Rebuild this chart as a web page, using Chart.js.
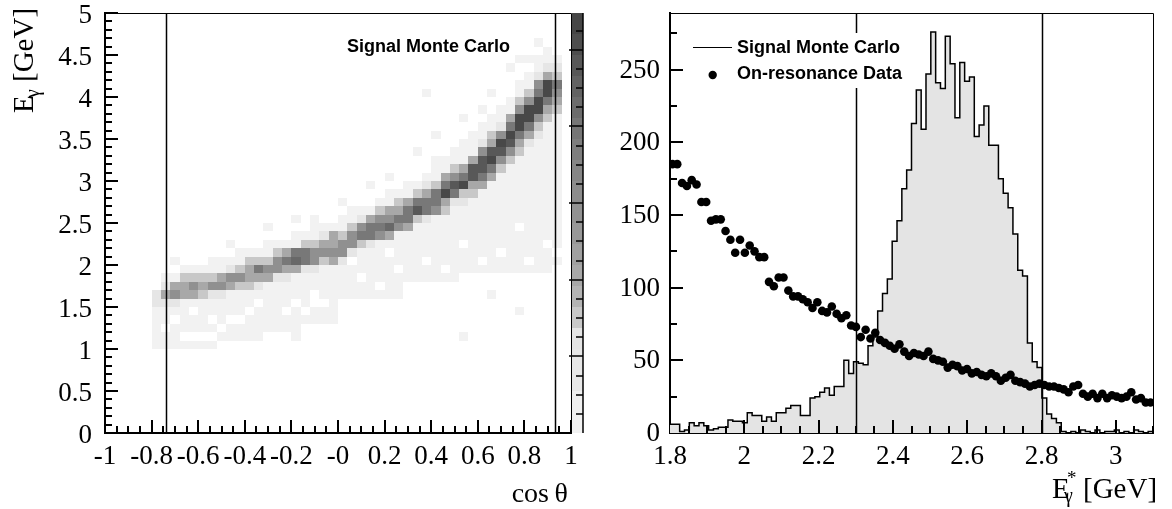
<!DOCTYPE html>
<html>
<head>
<meta charset="utf-8">
<script src="https://cdn.jsdelivr.net/npm/chart.js@4.4.1/dist/chart.umd.min.js"></script>
<style>
  html, body { margin: 0; padding: 0; background: #fff; }
  #wrap { position: relative; width: 1172px; height: 509px; }
  .pane { position: absolute; top: 0; height: 509px; }
  #left { left: 0; width: 590px; }
  #right { left: 590px; width: 582px; }
</style>
</head>
<body>
<div id="wrap">
  <div class="pane" id="left"><canvas id="mapChart"></canvas></div>
  <div class="pane" id="right"><canvas id="specChart"></canvas></div>
</div>
<script>
// ---- left pad: cos(theta) vs E_gamma, 50 x 50 bins ----
const cosTicks = [-1, -0.8, -0.6, -0.4, -0.2, 0, 0.2, 0.4, 0.6, 0.8, 1];
const cosTickLabels = ['-1', '-0.8', '-0.6', '-0.4', '-0.2', '-0', '0.2', '0.4', '0.6', '0.8', '1'];
const egTicks = [0, 0.5, 1, 1.5, 2, 2.5, 3, 3.5, 4, 4.5, 5];
const egTickLabels = ['0', '0.5', '1', '1.5', '2', '2.5', '3', '3.5', '4', '4.5', '5'];
const cosCuts = [-0.74, 0.93];
const nCos = 50, nEg = 50;

// light halo per cos column (E bin range), null = empty column
const haloLo = [null, null, null, null, null, 10, 10, 10, 10, 10,
  10, 10, 11, 11, 11, 11, 11, 11, 11, 11,
  11, 13, 13, 13, 13, 16, 16, 16, 16, 16,
  16, 16, 18, 18, 18, 18, 18, 18, 19, 19,
  19, 19, 19, 19, 19, 19, 19, 19, 19, null];
const haloHi = [null, null, null, null, null, 16, 18, 18, 19, 19,
  19, 20, 20, 20, 21, 21, 21, 22, 22, 22,
  23, 23, 24, 24, 24, 25, 25, 26, 26, 27,
  28, 28, 29, 29, 30, 31, 32, 33, 34, 35,
  36, 37, 38, 39, 41, 42, 44, 45, 44, null];
const haloHoles = [[8, 11], [9, 11], [10, 11], [11, 11], [13, 13], [14, 13], [16, 15], [17, 11], [18, 11],
  [19, 11], [22, 15], [23, 15], [22, 16], [21, 14], [12, 12], [7, 13], [20, 15], [15, 14], [19, 14],
  [27, 18], [29, 17], [31, 19], [26, 20], [34, 20], [36, 19], [40, 20], [42, 21], [45, 20], [47, 22],
  [48, 21], [48, 19], [44, 24], [38, 22], [30, 21], [9, 14], [6, 12], [11, 13]];
const haloExtra = [[7, 20], [12, 20], [20, 25], [22, 25], [25, 27], [26, 26], [34, 40], [40, 38], [33, 33],
  [35, 35], [35, 32], [45, 44], [47, 45], [43, 43], [30, 30], [28, 29], [38, 37], [44, 44], [13, 22],
  [17, 24], [41, 40], [46, 46], [38, 11], [41, 16], [44, 14]];

// signal band: first E bin of the band and its grey levels going up
const bandStart = [null, null, null, null, null, 14, 15, 15, 15, 16,
  16, 16, 16, 17, 17, 17, 17, 18, 18, 18,
  19, 19, 19, 20, 20, 20, 21, 22, 22, 23,
  23, 24, 24, 25, 25, 26, 26, 27, 27, 28,
  29, 30, 31, 32, 33, 34, 35, 37, 38, null];
const bandLevels = [null, null, null, null, null, '122', '242', '254', '1443', '453',
  '343', '253', '254', '452', '353', '3443', '2463', '453', '2553', '2464',
  '476', '2663', '2553', '3542', '4544', '2553', '2553', '3652', '2664', '5653',
  '4754', '5643', '4664', '3863', '26642', '5663', '34964', '26853', '23964', '34884',
  '468852', '469843', '358952', '358964', '3469953', '2469953', '23599652', '3469942', '345632', null];

const levelGreys = ['#ffffff', '#f2f2f2', '#e6e6e6', '#c8c8c8', '#a8a8a8', '#909090', '#787878', '#686868', '#585858', '#484848'];
const paletteGreys = ['#464646', '#4e4e4e', '#585858', '#626262', '#6c6c6c', '#767676', '#7e7e7e', '#868686',
  '#8c8c8c', '#929292', '#989898', '#a0a0a0', '#a8a8a8', '#b4b4b4', '#c8c8c8', '#e4e4e4', '#e6e6e6',
  '#e8e8e8', '#f0f0f0', '#f2f2f2'];
const paletteMax = 54.8, paletteMajor = 10, paletteMinor = 2.5;

// ---- right pad: E*_gamma spectrum, 100 bins from 1.8 to 3.1 ----
const specLo = 1.8, specBin = 0.013;
const mcCounts = [6, 6, 1, 2, 7, 5, 7, 5, 2, 3,
  4, 4, 9, 8, 8, 7, 14, 12, 12, 8,
  11, 8, 14, 14, 17, 19, 19, 12, 12, 24,
  25, 28, 31, 26, 32, 32, 50, 41, 49, 48,
  47, 60, 66, 84, 96, 106, 132, 146, 168, 181,
  213, 236, 209, 247, 276, 241, 237, 273, 254, 217,
  255, 242, 245, 204, 212, 225, 198, 198, 175, 165,
  155, 137, 112, 108, 62, 49, 45, 24, 13, 10,
  7, 1, 0, 1, 0, 2, 1, 0, 2, 0,
  1, 1, 2, 0, 1, 0, 2, 1, 0, 1];
const dataCounts = [185, 185, 172, 170, 174, 171, 159, 159, 146, 147,
  147, 139, 133, 124, 133, 124, 129, 125, 121, 121,
  104, 101, 107, 107, 98, 94, 94, 92, 90, 86,
  90, 84, 83, 87, 82, 79, 81, 74, 73, 66,
  71, 65, 69, 64, 62, 60, 58, 61, 56, 53,
  55, 54, 53, 56, 51, 50, 49, 45, 47, 46,
  43, 44, 41, 42, 40, 39, 41, 39, 36, 38,
  40, 36, 35, 34, 32, 33, 34, 33, 32, 32,
  31, 30, 28, 32, 33, 27, 25, 27, 24, 27,
  24, 26, 25, 24, 25, 28, 23, 24, 21, 21];
const specTicks = [1.8, 2, 2.2, 2.4, 2.6, 2.8, 3];
const specTickLabels = ['1.8', '2', '2.2', '2.4', '2.6', '2.8', '3'];
const countTicks = [0, 50, 100, 150, 200, 250];
const countTickLabels = ['0', '50', '100', '150', '200', '250'];
const specCuts = [2.3, 2.8];

Chart.defaults.font.family = "'Liberation Serif', 'Times New Roman', serif";
Chart.defaults.font.size = 27;
Chart.defaults.color = '#000';

const serif = size => size + "px 'Liberation Serif', serif";
const sansBold = size => 'bold ' + size + "px 'Liberation Sans', Arial, sans-serif";

// keep the plot frame where it is, labels may stick out
const noPad = s => { s.paddingTop = 0; s.paddingBottom = 0; s.paddingLeft = 0; s.paddingRight = 0 };

function buildGrid() {
  const grid = [];
  for (let i = 0; i < nCos; i++) {
    grid.push(new Array(nEg).fill(0));
    if (haloLo[i] != null) {
      for (let j = haloLo[i]; j <= haloHi[i]; j++) grid[i][j] = 1;
    }
  }
  haloHoles.forEach(([i, j]) => { grid[i][j] = 0 });
  haloExtra.forEach(([i, j]) => { grid[i][j] = 1 });
  bandStart.forEach((j0, i) => {
    if (j0 == null) return;
    [...bandLevels[i]].forEach((c, k) => { grid[i][j0 + k] = +c });
  });
  return grid;
}
const mapGrid = buildGrid();

// ROOT-like frame: inward ticks, top/right frame lines, cut lines
const rootFrame = {
  id: 'rootFrame',
  afterDatasetsDraw(chart, args, opts) {
    const { ctx, chartArea: a, scales: { x, y } } = chart;
    ctx.save();
    ctx.strokeStyle = '#000';
    ctx.lineWidth = 1.5;
    opts.cuts.forEach(v => {
      const px = Math.round(x.getPixelForValue(v)) + 0.5;
      ctx.beginPath(); ctx.moveTo(px, a.top); ctx.lineTo(px, a.bottom); ctx.stroke();
    });
    ctx.lineWidth = 1;
    ctx.beginPath();
    ctx.moveTo(a.left, a.top + 0.5); ctx.lineTo(a.right + 0.5, a.top + 0.5); ctx.lineTo(a.right + 0.5, a.bottom);
    ctx.stroke();
    ctx.lineWidth = 2;
    const isMajor = (v, min, step) => Math.abs((v - min) / step - Math.round((v - min) / step)) < 1e-6;
    for (let k = 1; ; k++) {
      const v = x.min + k * opts.xMinor;
      if (v > x.max + 1e-9) break;
      const px = Math.round(x.getPixelForValue(v));
      const len = isMajor(v, x.min, opts.xMajor) ? 13 : 7;
      ctx.beginPath(); ctx.moveTo(px, a.bottom); ctx.lineTo(px, a.bottom - len); ctx.stroke();
    }
    for (let k = 1; ; k++) {
      const v = y.min + k * opts.yMinor;
      if (v > y.max + 1e-9) break;
      const py = Math.round(y.getPixelForValue(v));
      const len = isMajor(v, y.min, opts.yMajor) ? 13 : 7;
      ctx.beginPath(); ctx.moveTo(a.left, py); ctx.lineTo(a.left + len, py); ctx.stroke();
    }
    ctx.restore();
  }
};

const cellPlugin = {
  id: 'cells',
  beforeDatasetsDraw(chart) {
    const { ctx, scales: { x, y } } = chart;
    const dc = (x.max - x.min) / nCos, de = (y.max - y.min) / nEg;
    ctx.save();
    for (let i = 0; i < nCos; i++) {
      for (let j = 0; j < nEg; j++) {
        const lvl = mapGrid[i][j];
        if (!lvl) continue;
        const x0 = Math.round(x.getPixelForValue(x.min + i * dc));
        const x1 = Math.round(x.getPixelForValue(x.min + (i + 1) * dc));
        const y0 = Math.round(y.getPixelForValue(y.min + j * de));
        const y1 = Math.round(y.getPixelForValue(y.min + (j + 1) * de));
        ctx.fillStyle = levelGreys[lvl];
        ctx.fillRect(x0, y1, x1 - x0, y0 - y1);
      }
    }
    ctx.restore();
  }
};

const mapDecor = {
  id: 'mapDecor',
  afterDraw(chart) {
    const { ctx, chartArea: a } = chart;
    ctx.save();
    // palette
    const pl = a.right + 1, pw = 11, h = a.bottom - a.top;
    const bh = h / paletteGreys.length;
    paletteGreys.forEach((c, k) => {
      ctx.fillStyle = c;
      ctx.fillRect(pl, Math.round(a.top + k * bh), pw, Math.round(a.top + (k + 1) * bh) - Math.round(a.top + k * bh));
    });
    ctx.strokeStyle = '#000';
    ctx.lineWidth = 1.5;
    ctx.beginPath(); ctx.moveTo(pl + pw, a.top); ctx.lineTo(pl + pw, a.bottom); ctx.stroke();
    for (let v = paletteMinor; v <= paletteMax; v += paletteMinor) {
      const py = Math.round(a.bottom - v / paletteMax * h);
      const major = Math.abs(v / paletteMajor - Math.round(v / paletteMajor)) < 1e-6;
      ctx.beginPath(); ctx.moveTo(pl + pw, py); ctx.lineTo(pl + pw - (major ? 14 : 7), py); ctx.stroke();
    }
    // texts
    ctx.fillStyle = '#000';
    ctx.font = sansBold(18);
    ctx.textAlign = 'left';
    ctx.textBaseline = 'alphabetic';
    ctx.fillText(chart.data.datasets[0].label, 347, 52);
    ctx.font = serif(28);
    ctx.textAlign = 'right';
    ctx.fillText('cos\u2009\u03b8', 568, 502);
    ctx.textAlign = 'left';
    ctx.translate(33, 113);
    ctx.rotate(-Math.PI / 2);
    ctx.font = serif(29);
    ctx.fillText('E', 0, 0);
    ctx.font = serif(20);
    ctx.fillText('\u03b3', 15, 6);
    ctx.font = serif(29);
    ctx.fillText('[GeV]', 31, 0);
    ctx.restore();
  }
};

const specDecor = {
  id: 'specDecor',
  afterDraw(chart) {
    const { ctx } = chart;
    const ds = chart.data.datasets;
    ctx.save();
    ctx.fillStyle = '#fff';
    ctx.fillRect(98, 33, 222, 55);
    ctx.strokeStyle = '#000';
    ctx.lineWidth = 1.2;
    ctx.beginPath(); ctx.moveTo(103, 47.5); ctx.lineTo(142, 47.5); ctx.stroke();
    ctx.fillStyle = '#000';
    ctx.beginPath(); ctx.arc(122.7, 75, 4.2, 0, Math.PI * 2); ctx.fill();
    ctx.font = sansBold(18);
    ctx.textAlign = 'left';
    ctx.textBaseline = 'alphabetic';
    ctx.fillText(ds[1].label, 147, 53);
    ctx.fillText(ds[0].label, 147, 78.5);
    // axis title E*_gamma [GeV]
    ctx.font = serif(29);
    ctx.fillText('E', 462, 498);
    ctx.font = serif(19);
    ctx.fillText('*', 477, 484);
    ctx.font = serif(20);
    ctx.fillText('\u03b3', 474, 502);
    ctx.font = serif(29);
    ctx.fillText('[GeV]', 493, 498);
    ctx.restore();
  }
};

new Chart(document.getElementById('mapChart'), {
  type: 'scatter',
  data: { datasets: [{ label: 'Signal Monte Carlo', data: [] }] },
  options: {
    responsive: true,
    maintainAspectRatio: false,
    animation: false,
    events: [],
    layout: { padding: { top: 13, right: 19, left: 0, bottom: 0 } },
    plugins: {
      legend: { display: false },
      tooltip: { enabled: false },
      rootFrame: { xMinor: 0.05, xMajor: 0.2, yMinor: 0.1, yMajor: 0.5, cuts: cosCuts }
    },
    scales: {
      x: {
        type: 'linear', min: -1, max: 1,
        afterBuildTicks: s => { s.ticks = cosTicks.map(v => ({ value: v })) },
        afterFit: s => { s.height = 76; noPad(s) },
        grid: { display: false, drawTicks: false },
        border: { display: true, color: '#000', width: 2 },
        ticks: { padding: 8, maxRotation: 0, autoSkip: false, callback: (v, i) => cosTickLabels[i] }
      },
      y: {
        type: 'linear', min: 0, max: 5,
        afterBuildTicks: s => { s.ticks = egTicks.map(v => ({ value: v })) },
        afterFit: s => { s.width = 105; noPad(s) },
        grid: { display: false, drawTicks: false },
        border: { display: true, color: '#000', width: 2 },
        ticks: { padding: 13, labelOffset: 3, autoSkip: false, callback: (v, i) => egTickLabels[i] }
      }
    }
  },
  plugins: [cellPlugin, rootFrame, mapDecor]
});

const histPoints = [{ x: specLo, y: mcCounts[0] }];
mcCounts.forEach((v, k) => histPoints.push({ x: specLo + (k + 0.5) * specBin, y: v }));
histPoints.push({ x: specLo + mcCounts.length * specBin, y: mcCounts[mcCounts.length - 1] });
const dataPoints = dataCounts.map((v, k) => ({ x: specLo + (k + 0.5) * specBin, y: v }));

new Chart(document.getElementById('specChart'), {
  type: 'scatter',
  data: {
    datasets: [
      {
        label: 'On-resonance Data', data: dataPoints, order: 1,
        pointRadius: 4.3, pointBackgroundColor: '#000', pointBorderWidth: 0
      },
      {
        type: 'line', label: 'Signal Monte Carlo', data: histPoints, order: 2,
        stepped: 'middle', borderColor: '#000', borderWidth: 1.5,
        backgroundColor: '#e4e4e4', fill: 'origin', pointRadius: 0
      }
    ]
  },
  options: {
    responsive: true,
    maintainAspectRatio: false,
    animation: false,
    events: [],
    layout: { padding: { top: 13, right: 19, left: 0, bottom: 0 } },
    plugins: {
      legend: { display: false },
      tooltip: { enabled: false },
      rootFrame: { xMinor: 0.05, xMajor: 0.2, yMinor: 25, yMajor: 50, cuts: specCuts }
    },
    scales: {
      x: {
        type: 'linear', min: 1.8, max: 3.1,
        afterBuildTicks: s => { s.ticks = specTicks.map(v => ({ value: v })) },
        afterFit: s => { s.height = 76; noPad(s) },
        grid: { display: false, drawTicks: false },
        border: { display: true, color: '#000', width: 2 },
        ticks: { padding: 8, maxRotation: 0, autoSkip: false, callback: (v, i) => specTickLabels[i] }
      },
      y: {
        type: 'linear', min: 0, max: 289,
        afterBuildTicks: s => { s.ticks = countTicks.map(v => ({ value: v })) },
        afterFit: s => { s.width = 80; noPad(s) },
        grid: { display: false, drawTicks: false },
        border: { display: true, color: '#000', width: 2 },
        ticks: { padding: 10, labelOffset: 1, autoSkip: false, callback: (v, i) => countTickLabels[i] }
      }
    }
  },
  plugins: [rootFrame, specDecor]
});
</script>
</body>
</html>
